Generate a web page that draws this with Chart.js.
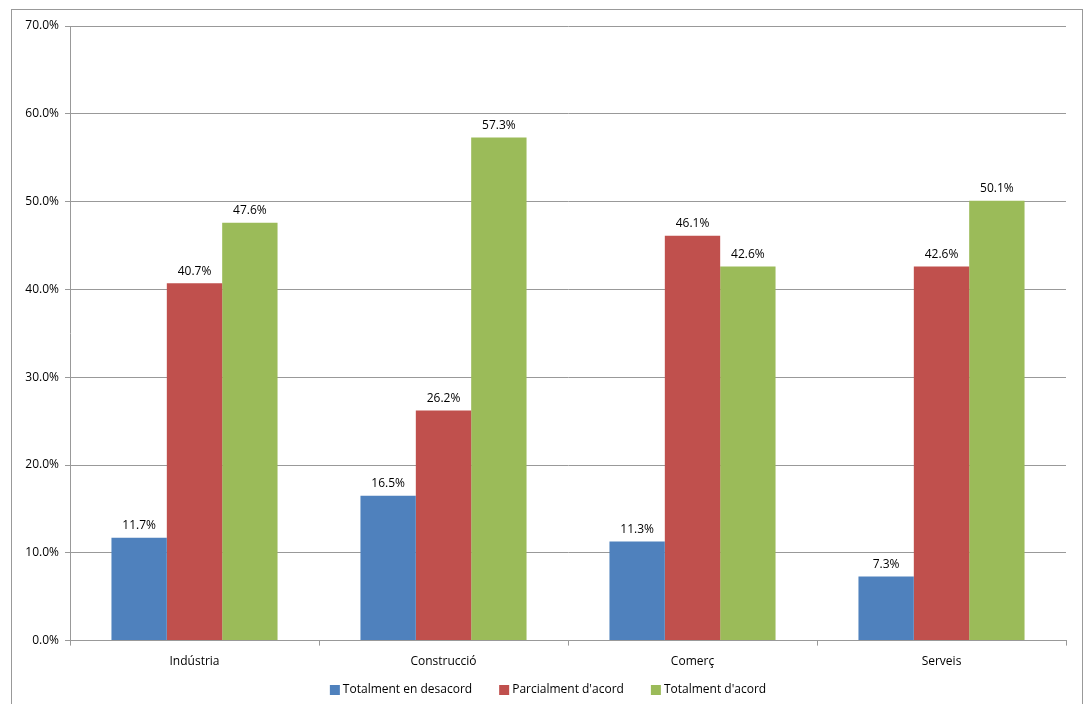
<!DOCTYPE html>
<html>
<head>
<meta charset="utf-8">
<script src="https://cdn.jsdelivr.net/npm/chart.js@4.4.1/dist/chart.umd.min.js"></script>
<style>
  html, body { margin: 0; padding: 0; background: #fff; }
  #wrap { width: 1085px; height: 704px; position: relative; }
</style>
</head>
<body>
<div id="wrap"><canvas id="chart"></canvas></div>
<script>
var categories = ['Indústria', 'Construcció', 'Comerç', 'Serveis'];
var seriesNames = ['Totalment en desacord', 'Parcialment d\'acord', 'Totalment d\'acord'];
var desacord = [11.7, 16.5, 11.3, 7.3];
var parcial = [40.7, 26.2, 46.1, 42.6];
var totalAcord = [47.6, 57.3, 42.6, 50.1];
var colors = ['#4F81BD', '#C0504D', '#9BBB59'];
var yTicks = [0, 10, 20, 30, 40, 50, 60, 70];

var FONT = '"Open Sans", Lato, sans-serif';
Chart.defaults.font.family = FONT;
Chart.defaults.font.size = 12;
Chart.defaults.color = '#000';

// outer frame round the whole chart
var framePlugin = {
    id: 'frame',
    beforeDraw: function (chart) {
        var c = chart.ctx;
        c.save();
        c.fillStyle = '#fff';
        c.fillRect(0, 0, chart.width, chart.height);
        c.strokeStyle = '#999';
        c.lineWidth = 1;
        c.strokeRect(11.5, 9.5, 1071, 720);
        c.restore();
    }
};

// value labels above every bar
var valueLabels = {
    id: 'valueLabels',
    afterDatasetsDraw: function (chart) {
        var c = chart.ctx;
        c.save();
        c.font = '12px ' + FONT;
        c.fillStyle = '#000';
        c.textAlign = 'center';
        c.textBaseline = 'bottom';
        chart.data.datasets.forEach(function (ds, i) {
            chart.getDatasetMeta(i).data.forEach(function (bar, j) {
                c.fillText(ds.data[j].toFixed(1) + '%', bar.x, bar.y - 6);
            });
        });
        c.restore();
    }
};

// legend along the bottom, drawn by hand so it sits tight under the axis labels
var bottomLegend = {
    id: 'bottomLegend',
    afterDraw: function (chart) {
        var c = chart.ctx;
        var box = 10, gap = 3, itemGap = 27, y = 690;
        c.save();
        c.font = '12px ' + FONT;
        c.textBaseline = 'middle';
        c.textAlign = 'left';
        var items = chart.data.datasets.map(function (ds) {
            return { text: ds.label, color: ds.backgroundColor, w: box + gap + c.measureText(ds.label).width };
        });
        var total = items.reduce(function (s, it) { return s + it.w; }, 0) + itemGap * (items.length - 1);
        var x = 548 - total / 2;
        items.forEach(function (it) {
            c.fillStyle = it.color;
            c.fillRect(x, y - box / 2, box, box);
            c.fillStyle = '#000';
            c.fillText(it.text, x + box + gap, y);
            x += it.w + itemGap;
        });
        c.restore();
    }
};

var ctx = document.getElementById('chart');
new Chart(ctx, {
    type: 'bar',
    data: {
        labels: categories,
        datasets: [
            { label: seriesNames[0], data: desacord, backgroundColor: colors[0] },
            { label: seriesNames[1], data: parcial, backgroundColor: colors[1] },
            { label: seriesNames[2], data: totalAcord, backgroundColor: colors[2] }
        ]
    },
    options: {
        responsive: true,
        maintainAspectRatio: false,
        animation: false,
        categoryPercentage: 0.667,
        barPercentage: 1.0,
        layout: { padding: { top: 26, right: 19, left: 12, bottom: 26 } },
        plugins: {
            legend: { display: false },
            tooltip: { enabled: false }
        },
        scales: {
            y: {
                min: 0,
                max: 70,
                afterBuildTicks: function (scale) {
                    scale.ticks = yTicks.map(function (v) { return { value: v }; });
                },
                afterFit: function (scale) { scale.width = 58; },
                ticks: {
                    padding: 6,
                    callback: function (v) { return v.toFixed(1) + '%'; }
                },
                grid: { color: '#999', tickLength: 5, tickColor: '#999' },
                border: { color: '#999' }
            },
            x: {
                grid: { drawOnChartArea: false, offset: true, tickLength: 5, color: '#999' },
                border: { color: '#999' },
                ticks: { padding: 9 }
            }
        }
    },
    plugins: [framePlugin, valueLabels, bottomLegend]
});
</script>
</body>
</html>
